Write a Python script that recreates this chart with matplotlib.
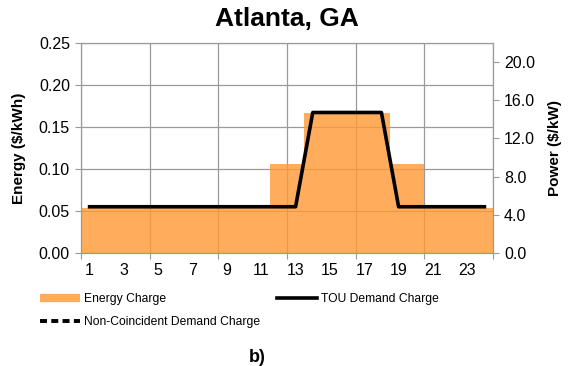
import matplotlib
matplotlib.use("Agg")
import matplotlib.pyplot as plt
from matplotlib.lines import Line2D
import numpy as np

hours = list(range(1, 25))
energy = [0.054] * 11 + [0.106] * 2 + [0.167] * 5 + [0.106] * 2 + [0.054] * 4
tou_demand = [4.84] * 13 + [14.7] * 5 + [4.84] * 6
noncoincident = []

plt.rcParams['font.family'] = ['Liberation Sans', 'DejaVu Sans']

fig = plt.figure(figsize=(5.71, 3.66), dpi=100)
ax = fig.add_axes([0.1419, 0.3087, 0.7215, 0.5746])
ax2 = ax.twinx()

x = np.arange(len(hours))
grid_c = "#9a9a9a"

# bars (energy)
ax.bar(x, energy, width=1.0, color="#FF9933", alpha=0.8, zorder=2, linewidth=0)
ax.set_xlim(-0.5, 23.5)
ax.set_ylim(0, 0.25)
ax.set_yticks(np.arange(0, 0.26, 0.05))
ax.set_yticklabels(["%.2f" % v for v in np.arange(0, 0.26, 0.05)], fontsize=11.5)
ax.set_xticks(np.arange(-0.5, 24, 4))
ax.set_xticklabels([])
ax.set_xticks(x[::2], minor=True)
ax.set_xticklabels([str(h) for h in hours[::2]], minor=True, fontsize=11.5)
ax.tick_params(axis='x', which='minor', length=0, pad=7)
ax.tick_params(axis='x', which='major', length=4, color=grid_c)
ax.tick_params(axis='y', length=4, color=grid_c, pad=4)
ax.grid(True, which='major', color=grid_c, linewidth=0.9, zorder=0)
ax.set_axisbelow(True)
ax.set_ylabel("Energy ($/kWh)", fontsize=11, fontweight='bold', labelpad=9)

# lines (demand)
ax2.plot(x, tou_demand, color="black", linewidth=2.6, zorder=3)
ax2.plot(x[:len(noncoincident)], noncoincident, color="black", linewidth=2.6,
         linestyle=(0, (2, 1.2)))
ax2.set_ylim(0, 22)
ax2.set_yticks(np.arange(0, 21, 4))
ax2.set_yticklabels(["%.1f" % v for v in np.arange(0, 21, 4)], fontsize=11.5)
ax2.tick_params(axis='y', length=4, color=grid_c, pad=4)
ax2.set_ylabel("Power ($/kW)", fontsize=11, fontweight='bold', labelpad=9)

for a in (ax, ax2):
    for s in a.spines.values():
        s.set_color(grid_c)

ax.set_title("Atlanta, GA", fontsize=19, fontweight='bold', pad=12)

handles = [
    Line2D([], [], color="#FFAD5C", linewidth=6, solid_capstyle='butt'),
    Line2D([], [], color="black", linewidth=2.8, linestyle=(0, (1.8, 1.1))),
    Line2D([], [], color="black", linewidth=2.6),
]
labels = ["Energy Charge", "Non-Coincident Demand Charge", "TOU Demand Charge"]
fig.legend(handles, labels, loc='upper left', bbox_to_anchor=(0.07, 0.2),
           ncol=2, frameon=False, fontsize=8.7, handlelength=3.3,
           handletextpad=0.35, columnspacing=1.4, labelspacing=0.95,
           borderaxespad=0, borderpad=0)

fig.text(0.45, 0.01, "b)", fontsize=13, fontweight='bold', ha='center')

fig.savefig("out.png", dpi=100)
